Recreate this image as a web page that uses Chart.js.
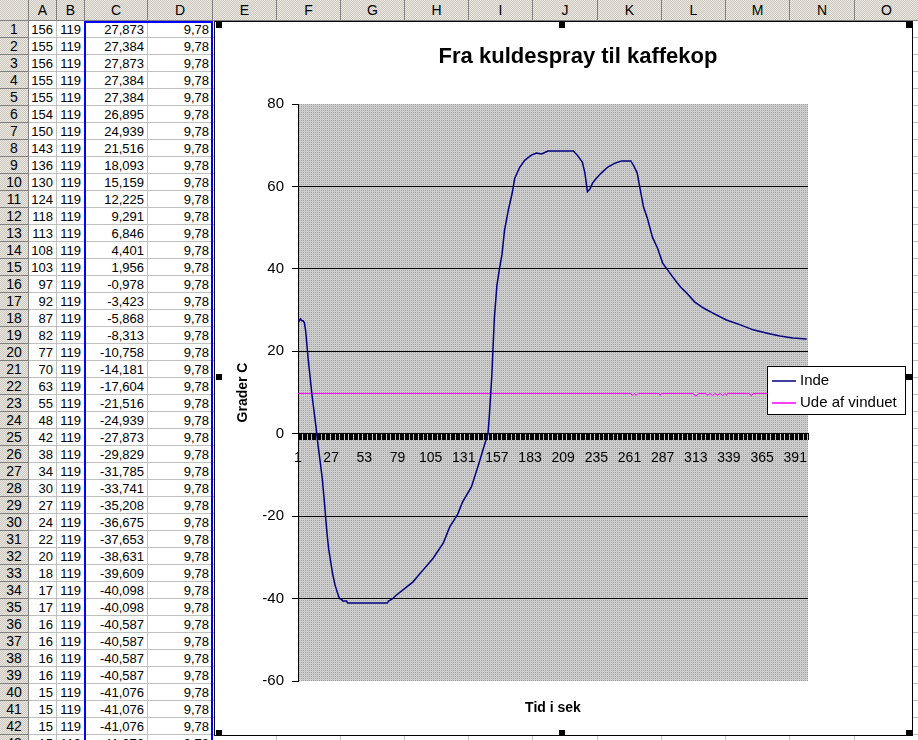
<!DOCTYPE html>
<html>
<head>
<meta charset="utf-8">
<script src="https://cdn.jsdelivr.net/npm/chart.js@4.4.1/dist/chart.umd.min.js"></script>
<style>
html, body { margin: 0; padding: 0; width: 918px; height: 740px; overflow: hidden; background: #fff;
  font-family: 'Liberation Sans', Arial, sans-serif; }
.hd { position: absolute; box-sizing: border-box; color: #000; text-align: center; font-size: 14px;
  background: repeating-conic-gradient(#ece9e2 0 25%, #cbc7bf 0 50%) 0 0 / 2px 2px;
  border-right: 1px solid #808080; border-bottom: 1px solid #808080; }
.cell { position: absolute; box-sizing: border-box; text-align: right; padding-right: 3px; font-size: 13px;
  border-right: 1px solid #c0c0c0; border-bottom: 1px solid #c0c0c0; white-space: nowrap; overflow: hidden; }
#sel { position: absolute; left: 84px; top: 21px; width: 129px; height: 740px; box-sizing: border-box;
  border: 2px solid #0000ff; border-bottom: none; }
#chartBox { position: absolute; left: 214px; top: 21px; width: 699px; height: 715px; box-sizing: border-box;
  border: 1px solid #000; background: #fff; }
#chartBox canvas { position: absolute; left: 0; top: 0; }
.handle { position: absolute; width: 6px; height: 6px; background: #000; }
</style>
</head>
<body>
<div id="sheet"></div>
<div id="sel"></div>
<div id="chartBox"><canvas id="c" width="697" height="713"></canvas></div>
<div class="handle" style="left:216px;top:22px"></div>
<div class="handle" style="left:559px;top:22px"></div>
<div class="handle" style="left:906px;top:22px"></div>
<div class="handle" style="left:216px;top:374px"></div>
<div class="handle" style="left:906px;top:374px"></div>
<div class="handle" style="left:216px;top:730px"></div>
<div class="handle" style="left:559px;top:730px"></div>
<div class="handle" style="left:906px;top:730px"></div>
<script>
// raw sensor counts, columns A and B of the sheet
var colA = [156,155,156,155,155,154,150,143,136,130,124,118,113,108,103,97,92,87,82,77,70,63,55,48,42,38,34,30,27,24,22,20,18,17,17,16,16,16,16,15,15,15,15];
var colB = [119,119,119,119,119,119,119,119,119,119,119,119,119,119,119,119,119,119,119,119,119,119,119,119,119,119,119,119,119,119,119,119,119,119,119,119,119,119,119,119,119,119,119];

// "Inde" - seconds and degrees (first 43 from column C, rest)
var insideTime = [1,2,3,4,5,6,7,8,9,10,11,12,13,14,15,16,17,18,19,20,21,22,23,24,25,26,27,28,29,30,31,32,33,34,35,36,37,38,39,40,41,42,43,
  60,71,72,75,78,91,99,107,115,120,126,130,137,143,147,150,151,153,155,157,159,161,163,166,169,171,175,179,184,188,192,197,
  217,220,224,226,228,230,232,235,239,244,250,255,262,264,267,269,272,275,279,283,287,291,295,301,306,312,319,326,337,348,358,369,379,389,400];
var insideTemp = [27.873,27.384,27.873,27.384,27.384,26.895,24.939,21.516,18.093,15.159,12.225,9.291,6.846,4.401,1.956,-0.978,-3.423,-5.868,-8.313,-10.758,
  -14.181,-17.604,-21.516,-24.939,-27.873,-29.829,-31.785,-33.741,-35.208,-36.675,-37.653,-38.631,-39.609,-40.098,-40.098,-40.587,-40.587,-40.587,-40.587,-41.076,-41.076,-41.076,-41.076,
  -41.1,-41.1,-40.6,-40.1,-39.2,-36.0,-33.1,-30.2,-26.5,-22.6,-19.7,-16.6,-12.9,-7.1,-3.0,0,4,14,28,36,40,43.5,49.4,54.3,58.4,62.0,64.7,66.4,67.6,68.1,67.9,68.6,
  68.6,67.6,65.9,63.3,58.7,59.4,60.8,62.0,63.3,64.7,65.7,66.2,66.2,65.2,63.3,59.9,55.0,52.3,47.7,45.0,41.4,39.7,38.0,35.6,34.1,32.0,30.5,29.3,27.6,26.4,25.2,24.4,23.7,23.2,23.0];

// "Ude af vinduet"
var outsideTime = [1,262,263,265,266,268,284,285,286,311,312,314,315,321,322,324,326,328,330,332,334,336,337,338,355,356,357,358,401];
var outsideTemp = [9.78,9.78,9.291,9.78,9.291,9.78,9.78,9.291,9.78,9.78,9.291,9.291,9.78,9.78,9.291,9.78,9.291,9.78,9.291,9.78,9.291,9.78,9.291,9.78,9.78,9.291,9.291,9.78,9.78];

var xTickLabels = [1,27,53,79,105,131,157,183,209,235,261,287,313,339,365,391];
var colNames = ['', 'A','B','C','D','E','F','G','H','I','J','K','L','M','N','O'];
var colLefts = [0,29,57,85,148,213,277,341,405,469,533,598,662,726,790,855,919];

// spreadsheet behind the chart
var sheet = document.getElementById('sheet');
function box(cls, x, y, w, h, txt) {
  var d = document.createElement('div');
  d.className = cls;
  d.style.left = x + 'px'; d.style.top = y + 'px';
  d.style.width = w + 'px'; d.style.height = h + 'px';
  d.style.lineHeight = h + 'px';
  d.textContent = txt;
  sheet.appendChild(d);
}
for (var c = 0; c < colNames.length; c++) {
  box('hd', colLefts[c], 0, colLefts[c + 1] - colLefts[c], 21, colNames[c]);
}
for (var r = 0; r < colA.length; r++) {
  var y = 21 + r * 17;
  box('hd', 0, y, 29, 17, String(r + 1));
  box('cell', 29, y, 28, 17, String(colA[r]));
  box('cell', 57, y, 28, 17, String(colB[r]));
  box('cell', 85, y, 63, 17, insideTemp[r].toFixed(3).replace('.', ','));
  box('cell', 148, y, 65, 17, outsideTemp[0].toFixed(2).replace('.', ','));
  for (var c2 = 5; c2 < colNames.length; c2++) {
    box('cell', colLefts[c2], y, colLefts[c2 + 1] - colLefts[c2], 17, '');
  }
}

// grey dotted plot area fill
var pc = document.createElement('canvas');
pc.width = 2; pc.height = 2;
var pctx = pc.getContext('2d');
pctx.fillStyle = '#cdcdcd'; pctx.fillRect(0, 0, 2, 2);
pctx.fillStyle = '#a4a4a4'; pctx.fillRect(0, 0, 1, 1);

var plotBg = {
  id: 'plotBg',
  beforeDraw: function (chart) {
    var a = chart.chartArea, ctx = chart.ctx;
    ctx.save();
    ctx.fillStyle = ctx.createPattern(pc, 'repeat');
    ctx.fillRect(a.left, a.top, a.right - a.left, a.bottom - a.top);
    ctx.restore();
  }
};

var boxLegend = {
  id: 'boxLegend',
  afterDraw: function (chart) {
    var ctx = chart.ctx;
    ctx.save();
    ctx.fillStyle = '#fff';
    ctx.fillRect(552.5, 344.5, 138, 48);
    ctx.strokeStyle = '#000'; ctx.lineWidth = 1;
    ctx.strokeRect(552.5, 344.5, 138, 48);
    ctx.font = '15px "Liberation Sans", Arial, sans-serif';
    ctx.textBaseline = 'middle';
    chart.data.datasets.forEach(function (ds, i) {
      var yy = 359 + i * 22;
      ctx.strokeStyle = ds.borderColor; ctx.lineWidth = 1.5;
      ctx.beginPath(); ctx.moveTo(557, yy); ctx.lineTo(581, yy); ctx.stroke();
      ctx.fillStyle = '#000';
      ctx.fillText(ds.label, 585, yy);
    });
    ctx.restore();
  }
};

Chart.defaults.font.family = "'Liberation Sans', Arial, sans-serif";
Chart.defaults.color = '#000';

new Chart(document.getElementById('c'), {
  type: 'line',
  data: {
    datasets: [{
      label: 'Inde',
      data: insideTime.map(function (t, i) { return { x: t, y: insideTemp[i] }; }),
      borderColor: '#000080',
      borderWidth: 1.5,
      pointRadius: 0,
      tension: 0
    }, {
      label: 'Ude af vinduet',
      data: outsideTime.map(function (t, i) { return { x: t, y: outsideTemp[i] }; }),
      borderColor: '#ff00ff',
      borderWidth: 1,
      pointRadius: 0,
      tension: 0
    }]
  },
  options: {
    responsive: false,
    animation: false,
    devicePixelRatio: 1,
    layout: { padding: { left: 29, right: 0, top: 0, bottom: 0 } },
    plugins: {
      legend: { display: false },
      tooltip: { enabled: false },
      title: {
        display: true,
        text: 'Fra kuldespray til kaffekop',
        font: { size: 22, weight: 'bold' },
        padding: { top: 21.8, bottom: 33.8 }
      }
    },
    scales: {
      x: {
        type: 'linear',
        position: { y: 0 },
        min: 1,
        max: 401,
        ticks: {
          stepSize: 1,
          autoSkip: false,
          maxRotation: 0,
          minRotation: 0,
          padding: 10,
          font: { size: 14 },
          callback: function (v) { return xTickLabels.indexOf(v) >= 0 ? String(v) : ''; }
        },
        grid: { drawOnChartArea: false, color: '#000', tickColor: '#000', tickLength: 6 },
        border: { color: '#000' },
        afterFit: function (s) { s.height = 0; }
      },
      // bottom axis carrying only the axis title
      xTitle: {
        type: 'linear',
        position: 'bottom',
        axis: 'x',
        min: 1,
        max: 401,
        ticks: { display: false },
        grid: { display: false },
        border: { display: false },
        title: { display: true, text: 'Tid i sek', font: { size: 14, weight: 'bold' }, padding: { top: 0, bottom: 18.6 } },
        afterFit: function (s) { s.height = 54; }
      },
      y: {
        min: -60,
        max: 80,
        ticks: { stepSize: 20, padding: 8, font: { size: 15 } },
        grid: {
          color: function (c) { return (c.tick && c.tick.value > -60 && c.tick.value < 80) ? '#000' : 'rgba(0,0,0,0)'; },
          tickColor: '#000',
          tickLength: 6
        },
        border: { color: '#000' },
        title: { display: true, text: 'Grader C', font: { size: 14, weight: 'bold' }, padding: { top: -9.4, bottom: 0 } },
        afterFit: function (s) { s.width = 54; }
      },
      // right-hand space that holds the legend
      yRight: {
        position: 'right',
        axis: 'y',
        min: -60,
        max: 80,
        ticks: { display: false },
        grid: { display: false },
        border: { display: false },
        afterFit: function (s) { s.width = 104; }
      }
    }
  },
  plugins: [plotBg, boxLegend]
});
</script>
</body>
</html>
